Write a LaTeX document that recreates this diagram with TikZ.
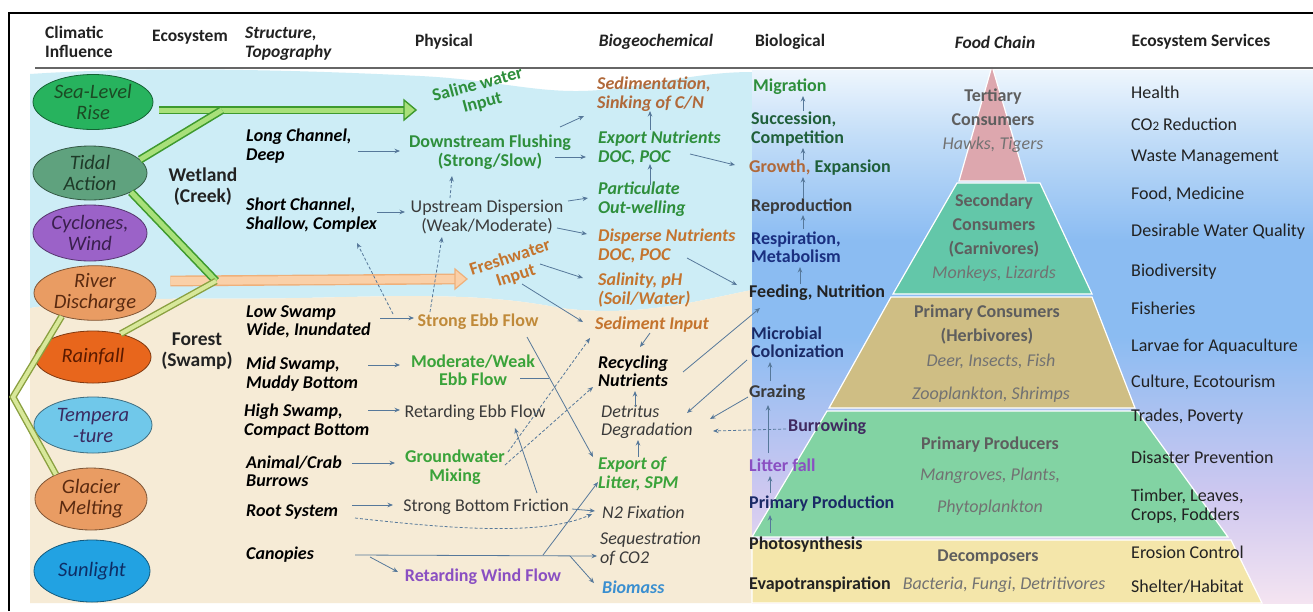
\documentclass[tikz,border=0pt]{standalone}
\usepackage{fontspec}
\setmainfont{Carlito}
\usetikzlibrary{arrows.meta,calc,shapes.geometric}
\definecolor{water}{HTML}{CDEDF6}
\definecolor{sand}{HTML}{F6EBD6}
\definecolor{arrc}{HTML}{56789A}
\definecolor{gout}{HTML}{3E9A2E}
\definecolor{gin}{HTML}{A8E07A}
\definecolor{yout}{HTML}{8AA040}
\definecolor{yin}{HTML}{D8E89A}
\definecolor{oout}{HTML}{EFB07A}
\definecolor{oin}{HTML}{FAD0A8}
\definecolor{tgreen}{HTML}{2E8F3C}
\definecolor{tgreenb}{HTML}{3AA33A}
\definecolor{tdkgreen}{HTML}{1F5F3A}
\definecolor{torange}{HTML}{C4742E}
\definecolor{tbrown}{HTML}{B0693A}
\definecolor{ttan}{HTML}{C08A3A}
\definecolor{tpurple}{HTML}{8A4FC2}
\definecolor{tdkpurple}{HTML}{402A60}
\definecolor{tblue}{HTML}{3A8FD0}
\definecolor{tnavy}{HTML}{1A2A66}
\definecolor{tdkblue}{HTML}{1A2F80}
\definecolor{tdark}{HTML}{222222}
\definecolor{tgray}{HTML}{3A3A3A}
\definecolor{pyrb}{HTML}{5E5E5E}
\definecolor{pyric}{HTML}{727272}
\definecolor{cslr}{HTML}{27B35E}
\definecolor{ctid}{HTML}{5FA27E}
\definecolor{ccyc}{HTML}{9B62C8}
\definecolor{crd}{HTML}{E99C63}
\definecolor{crain}{HTML}{E8661C}
\definecolor{ctemp}{HTML}{70C8EA}
\definecolor{csun}{HTML}{22A2E2}
\definecolor{kslr}{HTML}{1C4A24}
\definecolor{ktid}{HTML}{1E3A28}
\definecolor{kcyc}{HTML}{3A1F4E}
\definecolor{krd}{HTML}{5A2A10}
\definecolor{krain}{HTML}{5A1A00}
\definecolor{ktemp}{HTML}{3A2A60}
\definecolor{ksun}{HTML}{0E2E66}
\definecolor{ptert}{HTML}{DDA7AE}
\definecolor{psec}{HTML}{63C7A9}
\definecolor{pcon}{HTML}{CFBE84}
\definecolor{pprod}{HTML}{82D3A3}
\definecolor{pdec}{HTML}{F4E6AA}
\definecolor{gpink}{HTML}{F4E4F1}
\definecolor{glav}{HTML}{CFC8F0}
\definecolor{gblue}{HTML}{8BBCF2}
\definecolor{glight}{HTML}{C4DEF8}
\definecolor{gtop}{HTML}{EEF6FD}
\pgfdeclareverticalshading{bioshade}{100bp}{color(0bp)=(gpink); color(25bp)=(gpink); color(35bp)=(glav); color(50bp)=(gblue); color(59bp)=(gblue); color(69bp)=(glight); color(75bp)=(gtop); color(100bp)=(gtop)}
\tikzset{
  txr/.style={inner sep=1pt, align=left, font=\fontsize{18}{18.5}\selectfont},
  txb/.style={txr, font=\bfseries\fontsize{18}{18.5}\selectfont},
  txbi/.style={txr, font=\bfseries\itshape\fontsize{18}{18.5}\selectfont},
  txi/.style={txr, font=\itshape\fontsize{18}{18.5}\selectfont},
  hd/.style={txr, text=tdark, font=\bfseries\fontsize{17.5}{19}\selectfont},
  hdi/.style={txr, text=tdark, font=\bfseries\itshape\fontsize{17.5}{19}\selectfont},
  eco/.style={inner sep=1pt, align=center, text=tdark, font=\bfseries\fontsize{19.5}{21}\selectfont},
  clim/.style 2 args={ellipse, fill=#1, draw=#1!55!black, line width=0.8pt, text=#2, inner sep=0pt, align=center, font=\itshape\fontsize{20.5}{21}\selectfont},
  pyr/.style={inner sep=0pt, align=center, text=pyrb, font=\bfseries\fontsize{18}{24}\selectfont},
  pyri/.style={inner sep=0pt, align=center, text=pyric, font=\itshape\fontsize{18}{33}\selectfont},
  svc/.style={txr, anchor=west, text=tdark},
  biot/.style={txb, anchor=west},
  bgc/.style={txbi, anchor=west},
  strt/.style={txbi, anchor=west, text=black},
  arr/.style={draw=arrc, line width=0.8pt, -{Stealth[length=5.5pt,width=4.5pt]}},
  darr/.style={arr, dash pattern=on 3pt off 2pt},
  lnk/.style={draw=arrc, line width=0.8pt},
  gbar/.style={draw=gout, double=gin, double distance=5pt, line width=1.6pt},
  ybar/.style={draw=yout, double=yin, double distance=4pt, line width=1.4pt},
  obar/.style={draw=oout, double=oin, double distance=8pt, line width=1.4pt},
  band/.style={draw=white, line width=1.2pt}
}
\begin{document}
\begin{tikzpicture}[x=1pt,y=-1pt]
\useasboundingbox (0,0) rectangle (1313,611);
\fill[white] (0,0) rectangle (1313,611);
% ---------- backgrounds
\fill[water] (30,74) .. controls (150,66) and (300,70) .. (420,76) .. controls (500,80) and (540,95) .. (600,90) .. controls (660,84) and (700,72) .. (752,72) -- (752,290) .. controls (700,300) and (640,318) .. (560,308) .. controls (480,292) and (400,296) .. (300,298) .. controls (200,300) and (120,295) .. (30,308) -- cycle;
\fill[sand] (30,308) .. controls (120,295) and (200,300) .. (300,298) .. controls (400,296) and (480,292) .. (560,308) .. controls (640,318) and (700,300) .. (752,290) -- (752,603) -- (30,603) -- cycle;
\shade[shading=bioshade] (752,70) rectangle (1313,603);
% ---------- pyramid
\fill[ptert,band] (992,66) -- (1026,181) -- (959,181) -- cycle;
\fill[psec,band] (957,183) -- (1040,183) -- (1092,294) -- (893,294) -- cycle;
\fill[pcon,band] (891,297) -- (1092,297) -- (1135,408) -- (829,408) -- cycle;
\fill[pprod,band] (827,411) -- (1137,411) -- (1228,537) -- (752,537) -- cycle;
\fill[pdec,band] (752,540) -- (1231,540) -- (1262,603) -- (752,603) -- cycle;
% ---------- frame
\draw[line width=2pt] (9,611) -- (9,13) -- (1313,13);
\draw[line width=1.5pt, black!60] (35,68) -- (1313,68);
% ---------- headers
\node[hd, anchor=west] (hclim) at (44,42) {Climatic\\Influence};
\node[hd, anchor=west] (heco) at (151,37) {Ecosystem};
\node[hdi, anchor=west] (hstr) at (244,44) {Structure,\\Topography};
\node[hd] (hphy) at (444,42) {Physical};
\node[hdi] (hbgc) at (656,42) {Biogeochemical};
\node[hd] (hbio) at (790,42) {Biological};
\node[hdi] (hfood) at (995,42) {Food Chain};
\node[hd] (hsvc) at (1201,42) {Ecosystem Services};
% ---------- climatic ellipses
\node[clim={cslr}{kslr}, minimum width=120pt, minimum height=55pt] (slr) at (93,102) {Sea-Level\\Rise};
\node[clim={ctid}{ktid}, minimum width=114pt, minimum height=54pt] (tidal) at (90,173) {Tidal\\Action};
\node[clim={ccyc}{kcyc}, minimum width=114pt, minimum height=56pt] (cyc) at (90,233) {Cyclones,\\Wind};
\node[clim={crd}{krd}, minimum width=122pt, minimum height=54pt] (rd) at (95,293) {River\\Discharge};
\node[clim={crain}{krain}, minimum width=116pt, minimum height=52pt] (rain) at (93,357) {Rainfall};
\node[clim={ctemp}{ktemp}, minimum width=118pt, minimum height=56pt] (temp) at (93,425) {Tempera\\-ture};
\node[clim={crd}{krd}, minimum width=112pt, minimum height=62pt] (gm) at (91,499) {Glacier\\Melting};
\node[clim={csun}{ksun}, minimum width=116pt, minimum height=62pt] (sun) at (92,571) {Sunlight};
% ---------- ecosystem
\node[eco] (wet) at (203,187) {Wetland\\(Creek)};
\node[eco] (forest) at (197,351) {Forest\\(Swamp)};
% ---------- structure
\node[strt] (longch) at (245,146) {Long Channel,\\Deep};
\node[strt] (shortch) at (245,215) {Short Channel,\\Shallow, Complex};
\node[strt] (lowsw) at (245,322) {Low Swamp\\Wide, Inundated};
\node[strt] (midsw) at (245,374) {Mid Swamp,\\Muddy Bottom};
\node[strt] (highsw) at (243,421) {High Swamp,\\Compact Bottom};
\node[strt] (crab) at (245,471) {Animal/Crab\\Burrows};
\node[strt] (root) at (245,512) {Root System};
\node[strt] (canop) at (245,555) {Canopies};
% ---------- physical
\node[txb, text=tgreen, rotate=15, align=center] (saline) at (480,94) {Saline water\\Input};
\node[txb, text=tgreen, align=center] (downfl) at (490,152) {Downstream Flushing\\(Strong/Slow)};
\node[txr, text=tgray, align=center] (updisp) at (487,217) {Upstream Dispersion\\(Weak/Moderate)};
\node[txb, text=torange, rotate=18, align=center] (fresh) at (513,267) {Freshwater\\Input};
\node[txb, text=ttan] (strebb) at (478,322) {Strong Ebb Flow};
\node[txb, text=tgreenb, align=center] (modebb) at (473,370) {Moderate/Weak\\Ebb Flow};
\node[txr, text=tgray] (retebb) at (475,413) {Retarding Ebb Flow};
\node[txb, text=tgreenb, align=center] (ground) at (455,467) {Groundwater\\Mixing};
\node[txr, text=tgray] (botfr) at (486,507) {Strong Bottom Friction};
\node[txb, text=tpurple] (retwind) at (483,577) {Retarding Wind Flow};
% ---------- biogeochemical
\node[bgc, text=tbrown] (sedim) at (596,94) {Sedimentation,\\Sinking of C/N};
\node[bgc, text=tgreen] (expnut) at (597,148) {Export Nutrients\\DOC, POC};
\node[bgc, text=tgreen] (partic) at (597,199) {Particulate\\Out-welling};
\node[bgc, text=torange] (dispnut) at (597,246) {Disperse Nutrients\\DOC, POC};
\node[bgc, text=torange] (salin) at (597,290) {Salinity, pH\\(Soil/Water)};
\node[bgc, text=torange] (sedin) at (594,325) {Sediment Input};
\node[bgc, text=black] (recyc) at (597,371) {Recycling\\Nutrients};
\node[txi, anchor=west, text=tgray] (detr) at (600,422) {Detritus\\Degradation};
\node[bgc, text=tgreenb] (explit) at (597,474) {Export of\\Litter, SPM};
\node[txi, anchor=west, text=tgray] (n2fix) at (601,512) {N2 Fixation};
\node[txi, anchor=west, text=tgray] (seq) at (599,549) {Sequestration\\of CO2};
\node[bgc, text=tblue] (biom) at (601,587) {Biomass};
% ---------- biological
\node[biot, text=tgreen] (migr) at (752,87) {Migration};
\node[biot, text=tdkgreen] (succ) at (750,129) {Succession,\\Competition};
\node[biot, text=tdkgreen] (growth) at (748,168) {{\color{tbrown}Growth,} Expansion};
\node[biot, text=tgray] (repro) at (750,207) {Reproduction};
\node[biot, text=tdkblue] (resp) at (750,247) {Respiration,\\Metabolism};
\node[biot, text=tdark] (feed) at (748,293) {Feeding, Nutrition};
\node[biot, text=tnavy] (micro) at (750,342) {Microbial\\Colonization};
\node[biot, text=tgray] (graz) at (748,393) {Grazing};
\node[biot, text=tdkpurple] (burr) at (787,427) {Burrowing};
\node[biot, text=tpurple] (litter) at (748,465) {Litter fall};
\node[biot, text=tnavy] (primp) at (748,504) {Primary Production};
\node[biot, text=tdark] (photo) at (748,545) {Photosynthesis};
\node[biot, text=tdark] (evap) at (748,585) {Evapotranspiration};
% ---------- food chain
\node[pyr] (tert) at (993,121) {Tertiary\\Consumers\\{\mdseries\itshape\color{pyric}Hawks, Tigers}};
\node[pyr] (secc) at (994,238) {Secondary\\Consumers\\(Carnivores)\\{\mdseries\itshape\color{pyric}Monkeys, Lizards}};
\node[pyr] (pcons) at (987,325) {Primary Consumers\\(Herbivores)};
\node[pyri] (pconsx) at (991,378) {Deer, Insects, Fish\\Zooplankton, Shrimps};
\node[pyr, font=\bfseries\fontsize{18}{31.5}\selectfont] (pprodn) at (990,476) {Primary Producers\\{\mdseries\itshape\color{pyric}Mangroves, Plants,}\\{\mdseries\itshape\color{pyric}Phytoplankton}};
\node[pyr] (decn) at (988,557) {Decomposers};
\node[pyri] (decx) at (1004,585) {Bacteria, Fungi, Detritivores};
% ---------- services
\node[svc] (sv1) at (1130,92) {Health};
\node[svc] (sv2) at (1130,124) {CO{\fontsize{13}{13}\selectfont 2} Reduction};
\node[svc] (sv3) at (1130,157) {Waste Management};
\node[svc] (sv4) at (1130,194) {Food, Medicine};
\node[svc] (sv5) at (1130,232) {Desirable Water Quality};
\node[svc] (sv6) at (1130,272) {Biodiversity};
\node[svc] (sv7) at (1130,308) {Fisheries};
\node[svc] (sv8) at (1130,347) {Larvae for Aquaculture};
\node[svc] (sv9) at (1130,382) {Culture, Ecotourism};
\node[svc] (sv10) at (1130,417) {Trades, Poverty};
\node[svc] (sv11) at (1130,457) {Disaster Prevention};
\node[svc] (sv12) at (1130,506) {Timber, Leaves,\\Crops, Fodders};
\node[svc] (sv13) at (1130,552) {Erosion Control};
\node[svc] (sv14) at (1130,587) {Shelter/Habitat};
% ---------- thick bars
\coordinate (j1) at (222,110);
\coordinate (j2) at (216,281);
\coordinate (jl) at (13,397);
\coordinate (slrtip) at (404,110);
\coordinate (frtip) at (455,279);
\draw[obar] ($(rd.east |- j2)+(14,0)$) -- (frtip);
\filldraw[fill=oin, draw=oout, line width=1.2pt] ($(frtip)+(0,-10)$) -- ($(frtip)+(12,0)$) -- ($(frtip)+(0,10)$) -- cycle;
\draw[gbar] ($(slr.east |- j1)+(6,0)$) -- (slrtip);
\filldraw[fill=gin, draw=gout, line width=1.4pt] ($(slrtip)+(0,-10)$) -- ($(slrtip)+(12,0)$) -- ($(slrtip)+(0,10)$) -- cycle;
\draw[gbar] (tidal.15) -- (j1);
\draw[gbar] (tidal.-25) -- (j2);
\draw[ybar] (j2) -- (rain.40);
\draw[ybar] (rd.215) -- (jl) -- (gm.145);
% ---------- structure -> physical
\draw[arr] ($(longch.west)+(113,5)$) -- ($(downfl.center)+(-90,-1)$);
\draw[arr] ($(shortch.west)+(132,-3)$) -- ($(updisp.center)+(-82,-5)$);
\draw[arr] ($(lowsw.west)+(135,-4)$) -- ($(strebb.center)+(-64,-4)$);
\draw[arr] ($(midsw.west)+(123,-9)$) -- ($(modebb.center)+(-73,-5)$);
\draw[arr] ($(highsw.west)+(125,-11)$) -- ($(retebb.center)+(-75,-3)$);
\draw[arr] ($(crab.west)+(107,-8)$) -- ($(ground.center)+(-60,-4)$);
\draw[arr] ($(root.west)+(107,-7)$) -- ($(botfr.center)+(-93,-2)$);
\draw[arr] ($(canop.west)+(110,0)$) -- ($(seq.west)+(-2,7)$);
\draw[arr] ($(canop.west)+(125,2)$) -- ($(retwind.center)+(-85,-5)$);
% ---------- physical -> biogeochemical
\draw[arr] ($(downfl.center)+(65,5)$) -- ($(expnut.west)+(-11,9)$);
\draw[arr] ($(downfl.center)+(70,-25)$) -- ($(sedim.west)+(-12,22)$);
\draw[arr] ($(updisp.center)+(81,-16)$) -- ($(partic.west)+(-9,-1)$);
\draw[arr] ($(updisp.center)+(70,11)$) -- ($(dispnut.west)+(-10,-12)$);
\draw[arr] ($(fresh.center)+(27,-3)$) -- ($(salin.west)+(-14,-12)$);
\draw[arr] ($(fresh.center)+(9,17)$) -- ($(sedin.west)+(-11,-3)$);
\draw[arr] ($(strebb.center)+(49,15)$) -- ($(explit.west)+(-4,-17)$);
\coordinate (mj) at (549,378);
\draw[lnk] ($(modebb.center)+(47,8)$) -- (mj);
\draw[arr] ($(botfr.center)+(51,-14)$) -- ($(retebb.center)+(40,15)$);
\draw[arr] ($(botfr.center)+(86,2)$) -- ($(n2fix.west)+(-6,-1)$);
\draw[darr] ($(root.west)+(110,6)$) .. controls (460,530) and (545,535) .. ($(n2fix.west)+(-9,2)$);
\coordinate (cb1) at (543,555);
\coordinate (cb2) at (570,556);
\draw[arr] (cb1) -- ($(explit.west)+(1,8)$);
\draw[arr] (cb2) -- ($(biom.west)+(-7,-4)$);
\draw[darr] ($(updisp.center)+(-37,-19)$) -- ($(downfl.center)+(-38,24)$);
\draw[darr] ($(strebb.center)+(-85,-8)$) -- ($(shortch.west)+(112,28)$);
\draw[darr] ($(strebb.center)+(-48,-10)$) -- ($(updisp.center)+(-45,20)$);
\draw[darr] ($(ground.center)+(53,-15)$) -- ($(sedin.west)+(-4,13)$);
\draw[darr] ($(ground.center)+(50,-2)$) -- ($(recyc.west)+(-4,16)$);
% ---------- biogeochemical internal
\draw[arr] ($(expnut.west)+(53,-18)$) -- ($(sedim.west)+(54,17)$);
\draw[arr] ($(partic.west)+(53,-14)$) -- ($(expnut.west)+(53,16)$);
\draw[arr] ($(sedin.west)+(56,8)$) -- ($(recyc.west)+(43,-24)$);
\draw[arr] ($(detr.west)+(35,-15)$) -- ($(recyc.west)+(38,20)$);
\draw[arr] ($(explit.west)+(41,-17)$) -- ($(detr.west)+(38,18)$);
% ---------- to / from biological
\draw[arr] ($(expnut.west)+(93,6)$) -- ($(growth.west)+(-13,-3)$);
\draw[arr] ($(dispnut.west)+(90,12)$) -- ($(feed.west)+(-11,-8)$);
\draw[arr] ($(recyc.west)+(86,1)$) -- ($(feed.west)+(12,15)$);
\draw[arr] ($(micro.west)+(-3,18)$) -- ($(detr.west)+(87,-9)$);
\draw[arr] ($(graz.west)+(0,4)$) -- ($(detr.west)+(110,-3)$);
\draw[darr] ($(burr.west)+(-1,2)$) -- ($(detr.west)+(113,9)$);
% ---------- biological chain
\draw[arr] ($(succ.west)+(53,-18)$) -- ($(migr.west)+(51,9)$);
\draw[arr] ($(growth.west)+(55,-8)$) -- ($(succ.west)+(53,19)$);
\draw[arr] ($(repro.west)+(53,-9)$) -- ($(growth.west)+(55,9)$);
\draw[arr] ($(resp.west)+(53,-18)$) -- ($(repro.west)+(53,8)$);
\draw[arr] ($(feed.west)+(52,-9)$) -- ($(resp.west)+(50,20)$);
\draw[arr] ($(graz.west)+(22,-12)$) -- ($(micro.west)+(20,20)$);
\draw[arr] ($(litter.west)+(20,-12)$) -- ($(graz.west)+(20,12)$);
\draw[arr] ($(primp.west)+(22,-11)$) -- ($(litter.west)+(22,11)$);
\draw[arr] ($(photo.west)+(22,-12)$) -- ($(primp.west)+(22,11)$);
\end{tikzpicture}
\end{document}
